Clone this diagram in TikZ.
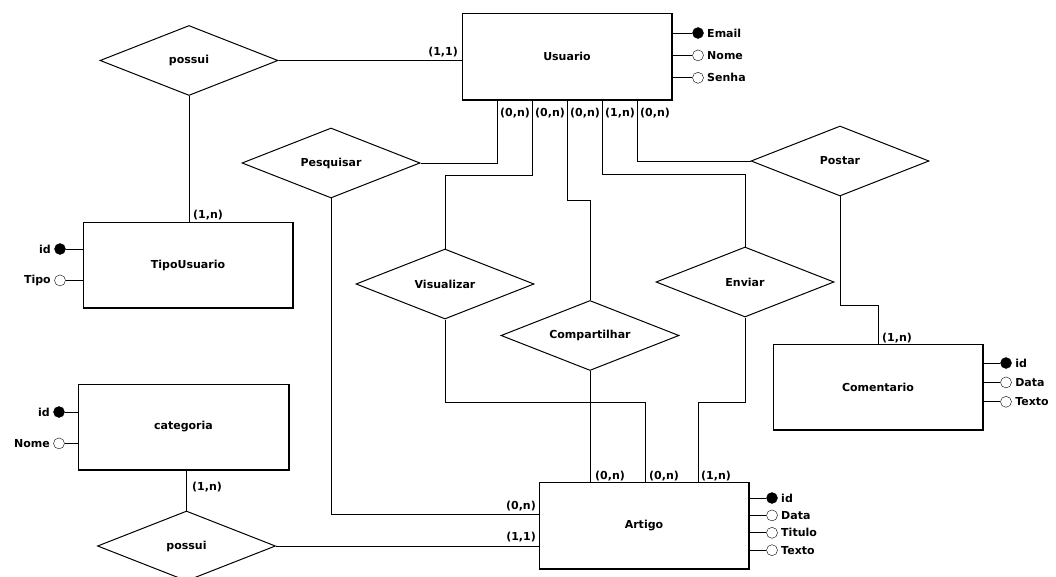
\documentclass[tikz,border=0pt]{standalone}
\usepackage{fontspec}
\setmainfont{DejaVu Sans}
\usetikzlibrary{shapes,shapes.geometric,calc,positioning}

\begin{document}
\begin{tikzpicture}[
    x=1pt,y=-1pt,
    font=\bfseries\fontsize{11}{13}\selectfont,
    entity/.style={rectangle,draw,line width=0.8pt,minimum width=210pt,minimum height=86pt},
    rel/.style={diamond,draw,line width=1pt,minimum width=178pt,minimum height=70pt,inner sep=0pt},
    keyattr/.style={circle,draw,fill=black,minimum size=11pt,inner sep=0pt},
    attr/.style={circle,draw,fill=white,minimum size=11pt,inner sep=0pt},
    card/.style={inner sep=1pt},
    link/.style={line width=0.8pt},
    edge/.style={line width=2pt}]
    \useasboundingbox (0,0) rectangle (1056,577);

    % entidades
    \node[label=center:Usuario,entity] (Usuario) at (567,56.5) {};
    \node[label=center:TipoUsuario,entity] (TipoUsuario) at (188,265) {};
    \node[label=center:categoria,entity] (Categoria) at (183.5,427) {};
    \node[label=center:Artigo,entity] (Artigo) at (644,525.5) {};
    \node[label=center:Comentario,entity] (Comentario) at (878,387) {};
    \draw[edge] (Usuario.north east) -- (Usuario.south east) -- (Usuario.south west);
    \draw[edge] (TipoUsuario.north east) -- (TipoUsuario.south east) -- (TipoUsuario.south west);
    \draw[edge] (Categoria.north east) -- (Categoria.south east) -- (Categoria.south west);
    \draw[edge] (Artigo.north east) -- (Artigo.south east) -- (Artigo.south west);
    \draw[edge] (Comentario.north east) -- (Comentario.south east) -- (Comentario.south west);

    % relacionamentos
    \node[label=center:possui,rel] (PossuiTipo) at (189,60.5) {};
    \node[label=center:possui,rel] (PossuiCat) at (186.5,546) {};
    \node[label=center:Pesquisar,rel] (Pesquisar) at (331,163) {};
    \node[label=center:Visualizar,rel] (Visualizar) at (445,284) {};
    \node[label=center:Compartilhar,rel] (Compartilhar) at (590,335.5) {};
    \node[label=center:Enviar,rel] (Enviar) at (745,282) {};
    \node[label=center:Postar,rel] (Postar) at (840,161) {};

    % atributos
    \node[label=right:Email,keyattr] (UEmail) at (698,33) {};
    \node[label=right:Nome,attr] (UNome) [below=11pt of UEmail] {};
    \node[label=right:Senha,attr] (USenha) [below=11pt of UNome] {};
    \node[label=left:id,keyattr] (TId) at (60,249) {};
    \node[label=left:Tipo,attr] (TTipo) [below=20pt of TId] {};
    \node[label=left:id,keyattr] (CId) at (59,412) {};
    \node[label=left:Nome,attr] (CNome) [below=20pt of CId] {};
    \node[label=right:id,keyattr] (AId) at (772,498) {};
    \node[label=right:Data,attr] (AData) [below=6pt of AId] {};
    \node[label=right:Titulo,attr] (ATitulo) [below=6pt of AData] {};
    \node[label=right:Texto,attr] (ATexto) [below=6pt of ATitulo] {};
    \node[label=right:id,keyattr] (MId) at (1006,363) {};
    \node[label=right:Data,attr] (MData) [below=8pt of MId] {};
    \node[label=right:Texto,attr] (MTexto) [below=8pt of MData] {};

    \draw[link] (UEmail) -- (UEmail -| Usuario.east);
    \draw[link] (UNome) -- (UNome -| Usuario.east);
    \draw[link] (USenha) -- (USenha -| Usuario.east);
    \draw[link] (TId) -- (TId -| TipoUsuario.west);
    \draw[link] (TTipo) -- (TTipo -| TipoUsuario.west);
    \draw[link] (CId) -- (CId -| Categoria.west);
    \draw[link] (CNome) -- (CNome -| Categoria.west);
    \draw[link] (AId) -- (AId -| Artigo.east);
    \draw[link] (AData) -- (AData -| Artigo.east);
    \draw[link] (ATitulo) -- (ATitulo -| Artigo.east);
    \draw[link] (ATexto) -- (ATexto -| Artigo.east);
    \draw[link] (MId) -- (MId -| Comentario.east);
    \draw[link] (MData) -- (MData -| Comentario.east);
    \draw[link] (MTexto) -- (MTexto -| Comentario.east);

    % pontos de ligacao
    \coordinate (U1) at (497,99);
    \coordinate (U2) at (532,99);
    \coordinate (U3) at (567,99);
    \coordinate (U4) at (602,99);
    \coordinate (U5) at (637,99);
    \coordinate (A0) at (539,514);
    \coordinate (A1) at (590,483);
    \coordinate (A2) at (645,483);
    \coordinate (A3) at (698,483);

    % ligacoes
    \draw[link] (PossuiTipo.east) -- (PossuiTipo.east -| Usuario.west);
    \draw[link] (PossuiTipo.south) -- (PossuiTipo.south |- TipoUsuario.north);
    \draw[link] (PossuiCat.north) -- (PossuiCat.north |- Categoria.south);
    \draw[link] (PossuiCat.east) -- (PossuiCat.east -| Artigo.west);
    \draw[link] (Pesquisar.east) -| (U1);
    \draw[link] (Pesquisar.south) |- (A0);
    \draw[link] (U2) -- ++(0,76) -| (Visualizar.north);
    \draw[link] (Visualizar.south) -- ++(0,83) -| (A2);
    \draw[link] (U3) -- ++(0,101) -| (Compartilhar.north);
    \draw[link] (Compartilhar.south) -- (A1);
    \draw[link] (U4) -- ++(0,75) -| (Enviar.north);
    \draw[link] (Enviar.south) -- ++(0,85) -| (A3);
    \draw[link] (U5) |- (Postar.west);
    \draw[link] (Postar.south) -- ++(0,109) -| (Comentario.north);

    % cardinalidades
    \node[card,anchor=east] (K1) at (459,52) {(1,1)};
    \node[card,anchor=west] (K2) at (192,215) {(1,n)};
    \node[card,anchor=west] (K3) at (191,487) {(1,n)};
    \node[card,anchor=east] (K4) at (537,537) {(1,1)};
    \node[card,anchor=east] (K5) at (537,506) {(0,n)};
    \node[card,anchor=west] (K6) at (499,113) {(0,n)};
    \node[card,anchor=west] (K7) at (534,113) {(0,n)};
    \node[card,anchor=west] (K8) at (569,113) {(0,n)};
    \node[card,anchor=west] (K9) at (604,113) {(1,n)};
    \node[card,anchor=west] (K10) at (639,113) {(0,n)};
    \node[card,anchor=west] (K11) at (594,476) {(0,n)};
    \node[card,anchor=west] (K12) at (648,476) {(0,n)};
    \node[card,anchor=west] (K13) at (700,476) {(1,n)};
    \node[card,anchor=west] (K14) at (881,338) {(1,n)};
  \end{tikzpicture}
\end{document}
